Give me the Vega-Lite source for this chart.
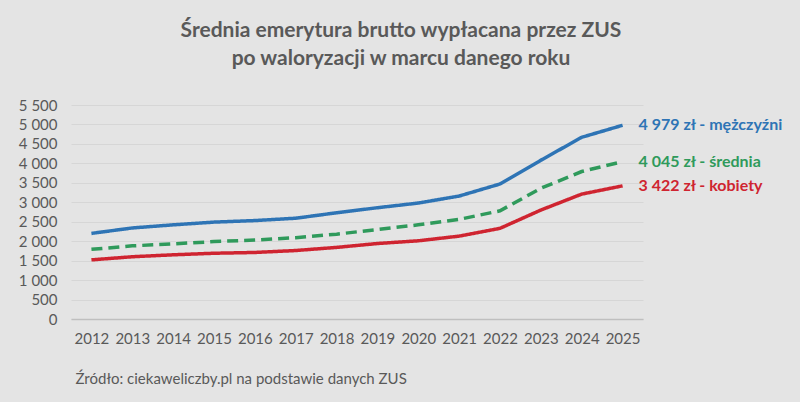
{
  "$schema": "https://vega.github.io/schema/vega-lite/v6.json",
  "width": 572,
  "height": 214,
  "autosize": {"type": "none"},
  "padding": {"left": 71, "top": 105, "right": 157, "bottom": 83},
  "background": "#e4e4e4",
  "config": {
    "view": {"stroke": null},
    "font": "Lato",
    "locale": {
      "number": {"decimal": ",", "thousands": " ", "grouping": [3], "currency": ["", " zł"]}
    }
  },
  "title": {
    "text": ["Średnia emerytura brutto wypłacana przez ZUS", "po waloryzacji w marcu danego roku"],
    "anchor": "middle",
    "dx": 44,
    "fontSize": 21,
    "fontWeight": "bold",
    "color": "#595959",
    "lineHeight": 28,
    "offset": 29
  },
  "data": {
    "values": [
      {"year": 2012, "series": "mężczyźni", "value": 2200},
      {"year": 2013, "series": "mężczyźni", "value": 2340},
      {"year": 2014, "series": "mężczyźni", "value": 2420},
      {"year": 2015, "series": "mężczyźni", "value": 2490},
      {"year": 2016, "series": "mężczyźni", "value": 2530},
      {"year": 2017, "series": "mężczyźni", "value": 2590},
      {"year": 2018, "series": "mężczyźni", "value": 2730},
      {"year": 2019, "series": "mężczyźni", "value": 2860},
      {"year": 2020, "series": "mężczyźni", "value": 2980},
      {"year": 2021, "series": "mężczyźni", "value": 3160},
      {"year": 2022, "series": "mężczyźni", "value": 3470},
      {"year": 2023, "series": "mężczyźni", "value": 4080},
      {"year": 2024, "series": "mężczyźni", "value": 4670},
      {"year": 2025, "series": "mężczyźni", "value": 4979, "label": "4 979 zł - mężczyźni"},
      {"year": 2012, "series": "średnia", "value": 1790},
      {"year": 2013, "series": "średnia", "value": 1880},
      {"year": 2014, "series": "średnia", "value": 1930},
      {"year": 2015, "series": "średnia", "value": 1990},
      {"year": 2016, "series": "średnia", "value": 2030},
      {"year": 2017, "series": "średnia", "value": 2090},
      {"year": 2018, "series": "średnia", "value": 2180},
      {"year": 2019, "series": "średnia", "value": 2300},
      {"year": 2020, "series": "średnia", "value": 2420},
      {"year": 2021, "series": "średnia", "value": 2560},
      {"year": 2022, "series": "średnia", "value": 2780},
      {"year": 2023, "series": "średnia", "value": 3360},
      {"year": 2024, "series": "średnia", "value": 3790},
      {"year": 2025, "series": "średnia", "value": 4045, "label": "4 045 zł - średnia"},
      {"year": 2012, "series": "kobiety", "value": 1520},
      {"year": 2013, "series": "kobiety", "value": 1600},
      {"year": 2014, "series": "kobiety", "value": 1650},
      {"year": 2015, "series": "kobiety", "value": 1690},
      {"year": 2016, "series": "kobiety", "value": 1710},
      {"year": 2017, "series": "kobiety", "value": 1760},
      {"year": 2018, "series": "kobiety", "value": 1840},
      {"year": 2019, "series": "kobiety", "value": 1940},
      {"year": 2020, "series": "kobiety", "value": 2010},
      {"year": 2021, "series": "kobiety", "value": 2130},
      {"year": 2022, "series": "kobiety", "value": 2330},
      {"year": 2023, "series": "kobiety", "value": 2800},
      {"year": 2024, "series": "kobiety", "value": 3210},
      {"year": 2025, "series": "kobiety", "value": 3422, "label": "3 422 zł - kobiety"}
    ]
  },
  "encoding": {
    "x": {
      "field": "year",
      "type": "ordinal",
      "scale": {"type": "point", "padding": 0.5},
      "axis": {
        "title": "Źródło: ciekaweliczby.pl na podstawie danych ZUS",
        "titleAnchor": "start",
        "titleAlign": "left",
        "titleX": 4,
        "titleY": 59,
        "titleBaseline": "middle",
        "titleFontSize": 15,
        "titleFontWeight": "normal",
        "titleColor": "#595959",
        "labelAngle": 0,
        "labelFontSize": 15,
        "labelColor": "#595959",
        "labelPadding": 12,
        "ticks": false,
        "domainColor": "#bfbfbf",
        "domainWidth": 1.5
      }
    },
    "y": {
      "field": "value",
      "type": "quantitative",
      "scale": {"domain": [0, 5500]},
      "axis": {
        "title": null,
        "values": [0, 500, 1000, 1500, 2000, 2500, 3000, 3500, 4000, 4500, 5000, 5500],
        "format": ",d",
        "labelFontSize": 15,
        "labelColor": "#595959",
        "labelPadding": 14,
        "ticks": false,
        "domain": false,
        "gridColor": "#d6d6d6",
        "gridWidth": 1
      }
    },
    "color": {
      "field": "series",
      "type": "nominal",
      "scale": {
        "domain": ["mężczyźni", "średnia", "kobiety"],
        "range": ["#2e74b5", "#2f9a5b", "#cf2430"]
      },
      "legend": null
    }
  },
  "layer": [
    {
      "mark": {"type": "line", "strokeWidth": 3.5},
      "encoding": {
        "strokeDash": {
          "field": "series",
          "type": "nominal",
          "scale": {
            "domain": ["mężczyźni", "średnia", "kobiety"],
            "range": [[1, 0], [11, 6], [1, 0]]
          },
          "legend": null
        }
      }
    },
    {
      "transform": [{"filter": "datum.label != null"}],
      "mark": {"type": "text", "align": "left", "dx": 16, "baseline": "middle", "fontSize": 16, "fontWeight": "bold"},
      "encoding": {
        "text": {"field": "label"}
      }
    }
  ]
}
